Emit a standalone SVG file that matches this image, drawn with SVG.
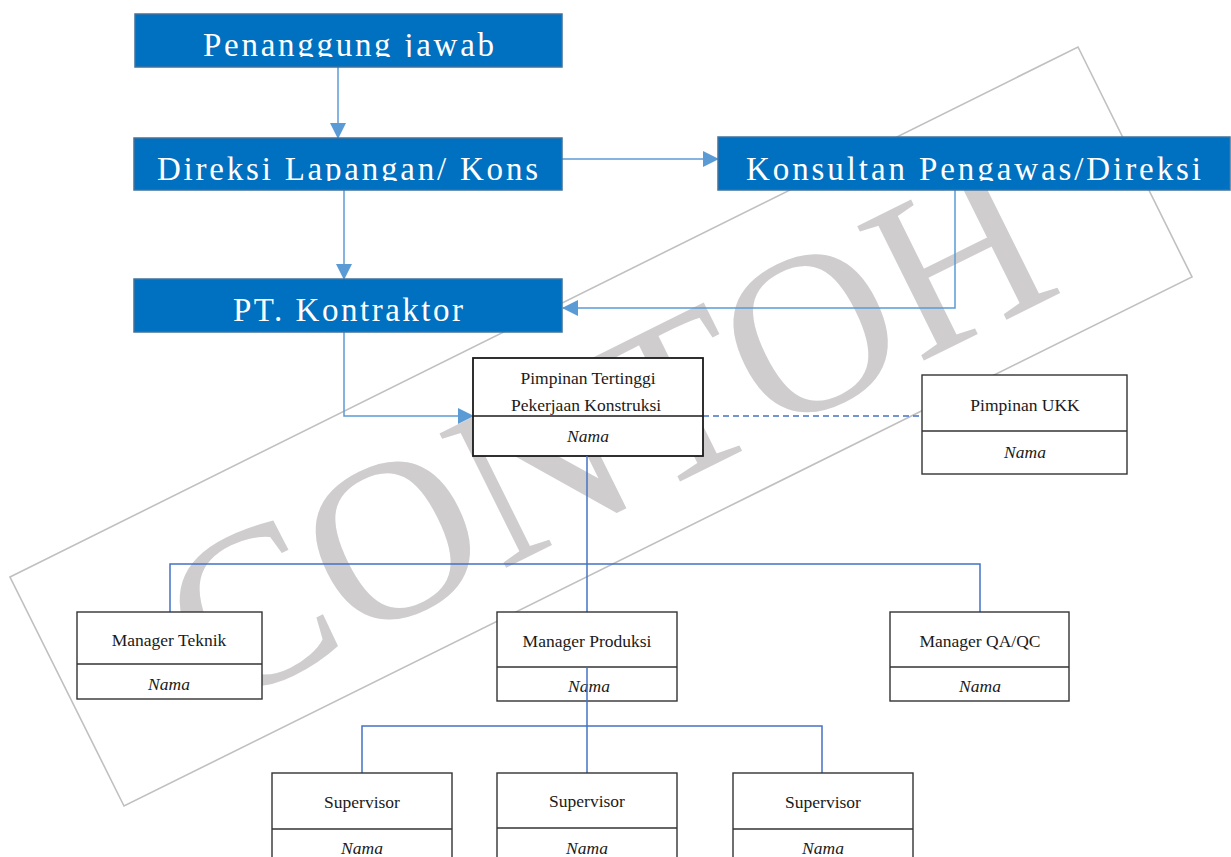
<svg xmlns="http://www.w3.org/2000/svg" width="1231" height="857" viewBox="0 0 1231 857">
<style>
.bb{fill:#0070C0;stroke:#41719C;stroke-width:1.5}
.bt{font-family:"Liberation Serif","Times New Roman",serif;font-size:33px;fill:#ffffff;text-anchor:middle}
.wb{fill:#ffffff;stroke:#333333;stroke-width:1.4}
.dv{stroke:#333333;stroke-width:1.4}
.t{font-family:"Liberation Serif","Times New Roman",serif;font-size:17.5px;fill:#1a1a1a;text-anchor:middle}
.ti{font-family:"Liberation Serif","Times New Roman",serif;font-size:17.5px;font-style:italic;fill:#1a1a1a;text-anchor:middle}
.c{fill:none;stroke:#5B9BD5;stroke-width:1.5}
.o{fill:none;stroke:#4472C4;stroke-width:1.5}
</style>
<defs>
<marker id="ah" markerUnits="userSpaceOnUse" markerWidth="16" markerHeight="16" viewBox="0 0 16 16" refX="15" refY="8" orient="auto">
<path d="M0,0 L16,8 L0,16 Z" fill="#5B9BD5"/>
</marker>
<clipPath id="c1"><rect x="135" y="14" width="427" height="43"/></clipPath>
<clipPath id="c2"><rect x="134" y="138" width="428" height="43"/></clipPath>
<clipPath id="c3"><rect x="718" y="137" width="512" height="44"/></clipPath>
</defs>
<g id="watermark">
<polygon points="10,577 1078,47 1192,277 124,806" fill="none" stroke="#c0c0c0" stroke-width="1.6"/>
<text transform="translate(607,433) rotate(-26.4)" x="0" y="76" font-family="Liberation Serif, Times New Roman, serif" font-size="229" fill="#cfcdcd" text-anchor="middle">CONTOH</text>
</g>
<g id="connectors">
<line class="c" x1="338" y1="67" x2="338" y2="138" marker-end="url(#ah)"/>
<line class="c" x1="562" y1="159" x2="718" y2="159" marker-end="url(#ah)"/>
<line class="c" x1="344" y1="190" x2="344" y2="279" marker-end="url(#ah)"/>
<polyline class="c" points="955,190 955,308 563,308" marker-end="url(#ah)"/>
<polyline class="c" points="344,332 344,416 473,416" marker-end="url(#ah)"/>
<line x1="703" y1="416" x2="930" y2="416" stroke="#4472C4" stroke-width="1.5" stroke-dasharray="6,4"/>
</g>
<g id="n-penanggung">
<rect class="bb" x="135" y="14" width="427" height="53"/>
<text class="bt" x="348.5" y="56" textLength="291" lengthAdjust="spacing" clip-path="url(#c1)">Penanggung jawab</text>
</g>
<g id="n-direksi">
<rect class="bb" x="134" y="138" width="428" height="52"/>
<text class="bt" x="347.5" y="180" textLength="381" lengthAdjust="spacing" clip-path="url(#c2)">Direksi Lapangan/ Kons</text>
</g>
<g id="n-konsultan">
<rect class="bb" x="718" y="137" width="512" height="53"/>
<text class="bt" x="973.5" y="180" textLength="455" lengthAdjust="spacing" clip-path="url(#c3)">Konsultan Pengawas/Direksi</text>
</g>
<g id="n-kontraktor">
<rect class="bb" x="134" y="279" width="428" height="53"/>
<text class="bt" x="348" y="321" textLength="230" lengthAdjust="spacing">PT. Kontraktor</text>
</g>
<g id="n-pimpinan">
<rect class="wb" x="473" y="358" width="230" height="98" style="stroke:#1a1a1a;stroke-width:1.8"/>
<line class="dv" x1="473" y1="416" x2="703" y2="416" style="stroke:#1a1a1a"/>
<text class="t" x="588" y="384">Pimpinan Tertinggi</text>
<text class="t" x="586" y="411">Pekerjaan Konstruksi</text>
<text class="ti" x="588" y="442">Nama</text>
</g>
<g id="n-ukk">
<rect class="wb" x="922" y="375" width="205" height="99"/>
<line class="dv" x1="922" y1="431" x2="1127" y2="431"/>
<text class="t" x="1025" y="411">Pimpinan UKK</text>
<text class="ti" x="1025" y="458">Nama</text>
</g>
<g id="org-lines">
<polyline class="o" points="587,456 587,612"/>
<polyline class="o" points="170,612 170,564 980,564 980,612"/>
</g>
<g id="n-teknik">
<rect class="wb" x="77" y="612" width="185" height="87"/>
<line class="dv" x1="77" y1="664" x2="262" y2="664"/>
<text class="t" x="169" y="646">Manager Teknik</text>
<text class="ti" x="169" y="690">Nama</text>
</g>
<g id="n-produksi">
<rect class="wb" x="497" y="612" width="180" height="89"/>
<line class="dv" x1="497" y1="667" x2="677" y2="667"/>
<text class="t" x="587" y="647">Manager Produksi</text>
<text class="ti" x="589" y="692">Nama</text>
</g>
<g id="n-qaqc">
<rect class="wb" x="890" y="612" width="179" height="89"/>
<line class="dv" x1="890" y1="667" x2="1069" y2="667"/>
<text class="t" x="980" y="647">Manager QA/QC</text>
<text class="ti" x="980" y="692">Nama</text>
</g>
<g id="org-lines-2">
<line class="o" x1="587" y1="667" x2="587" y2="773"/>
<polyline class="o" points="362,773 362,726 822,726 822,773"/>
</g>
<g id="n-sup1">
<rect class="wb" x="272" y="773" width="180" height="100"/>
<line class="dv" x1="272" y1="829" x2="452" y2="829"/>
<text class="t" x="362" y="808">Supervisor</text>
<text class="ti" x="362" y="854">Nama</text>
</g>
<g id="n-sup2">
<rect class="wb" x="497" y="773" width="180" height="100"/>
<line class="dv" x1="497" y1="828" x2="677" y2="828"/>
<text class="t" x="587" y="807">Supervisor</text>
<text class="ti" x="587" y="854">Nama</text>
</g>
<g id="n-sup3">
<rect class="wb" x="733" y="773" width="180" height="100"/>
<line class="dv" x1="733" y1="829" x2="913" y2="829"/>
<text class="t" x="823" y="808">Supervisor</text>
<text class="ti" x="823" y="854">Nama</text>
</g>
</svg>
